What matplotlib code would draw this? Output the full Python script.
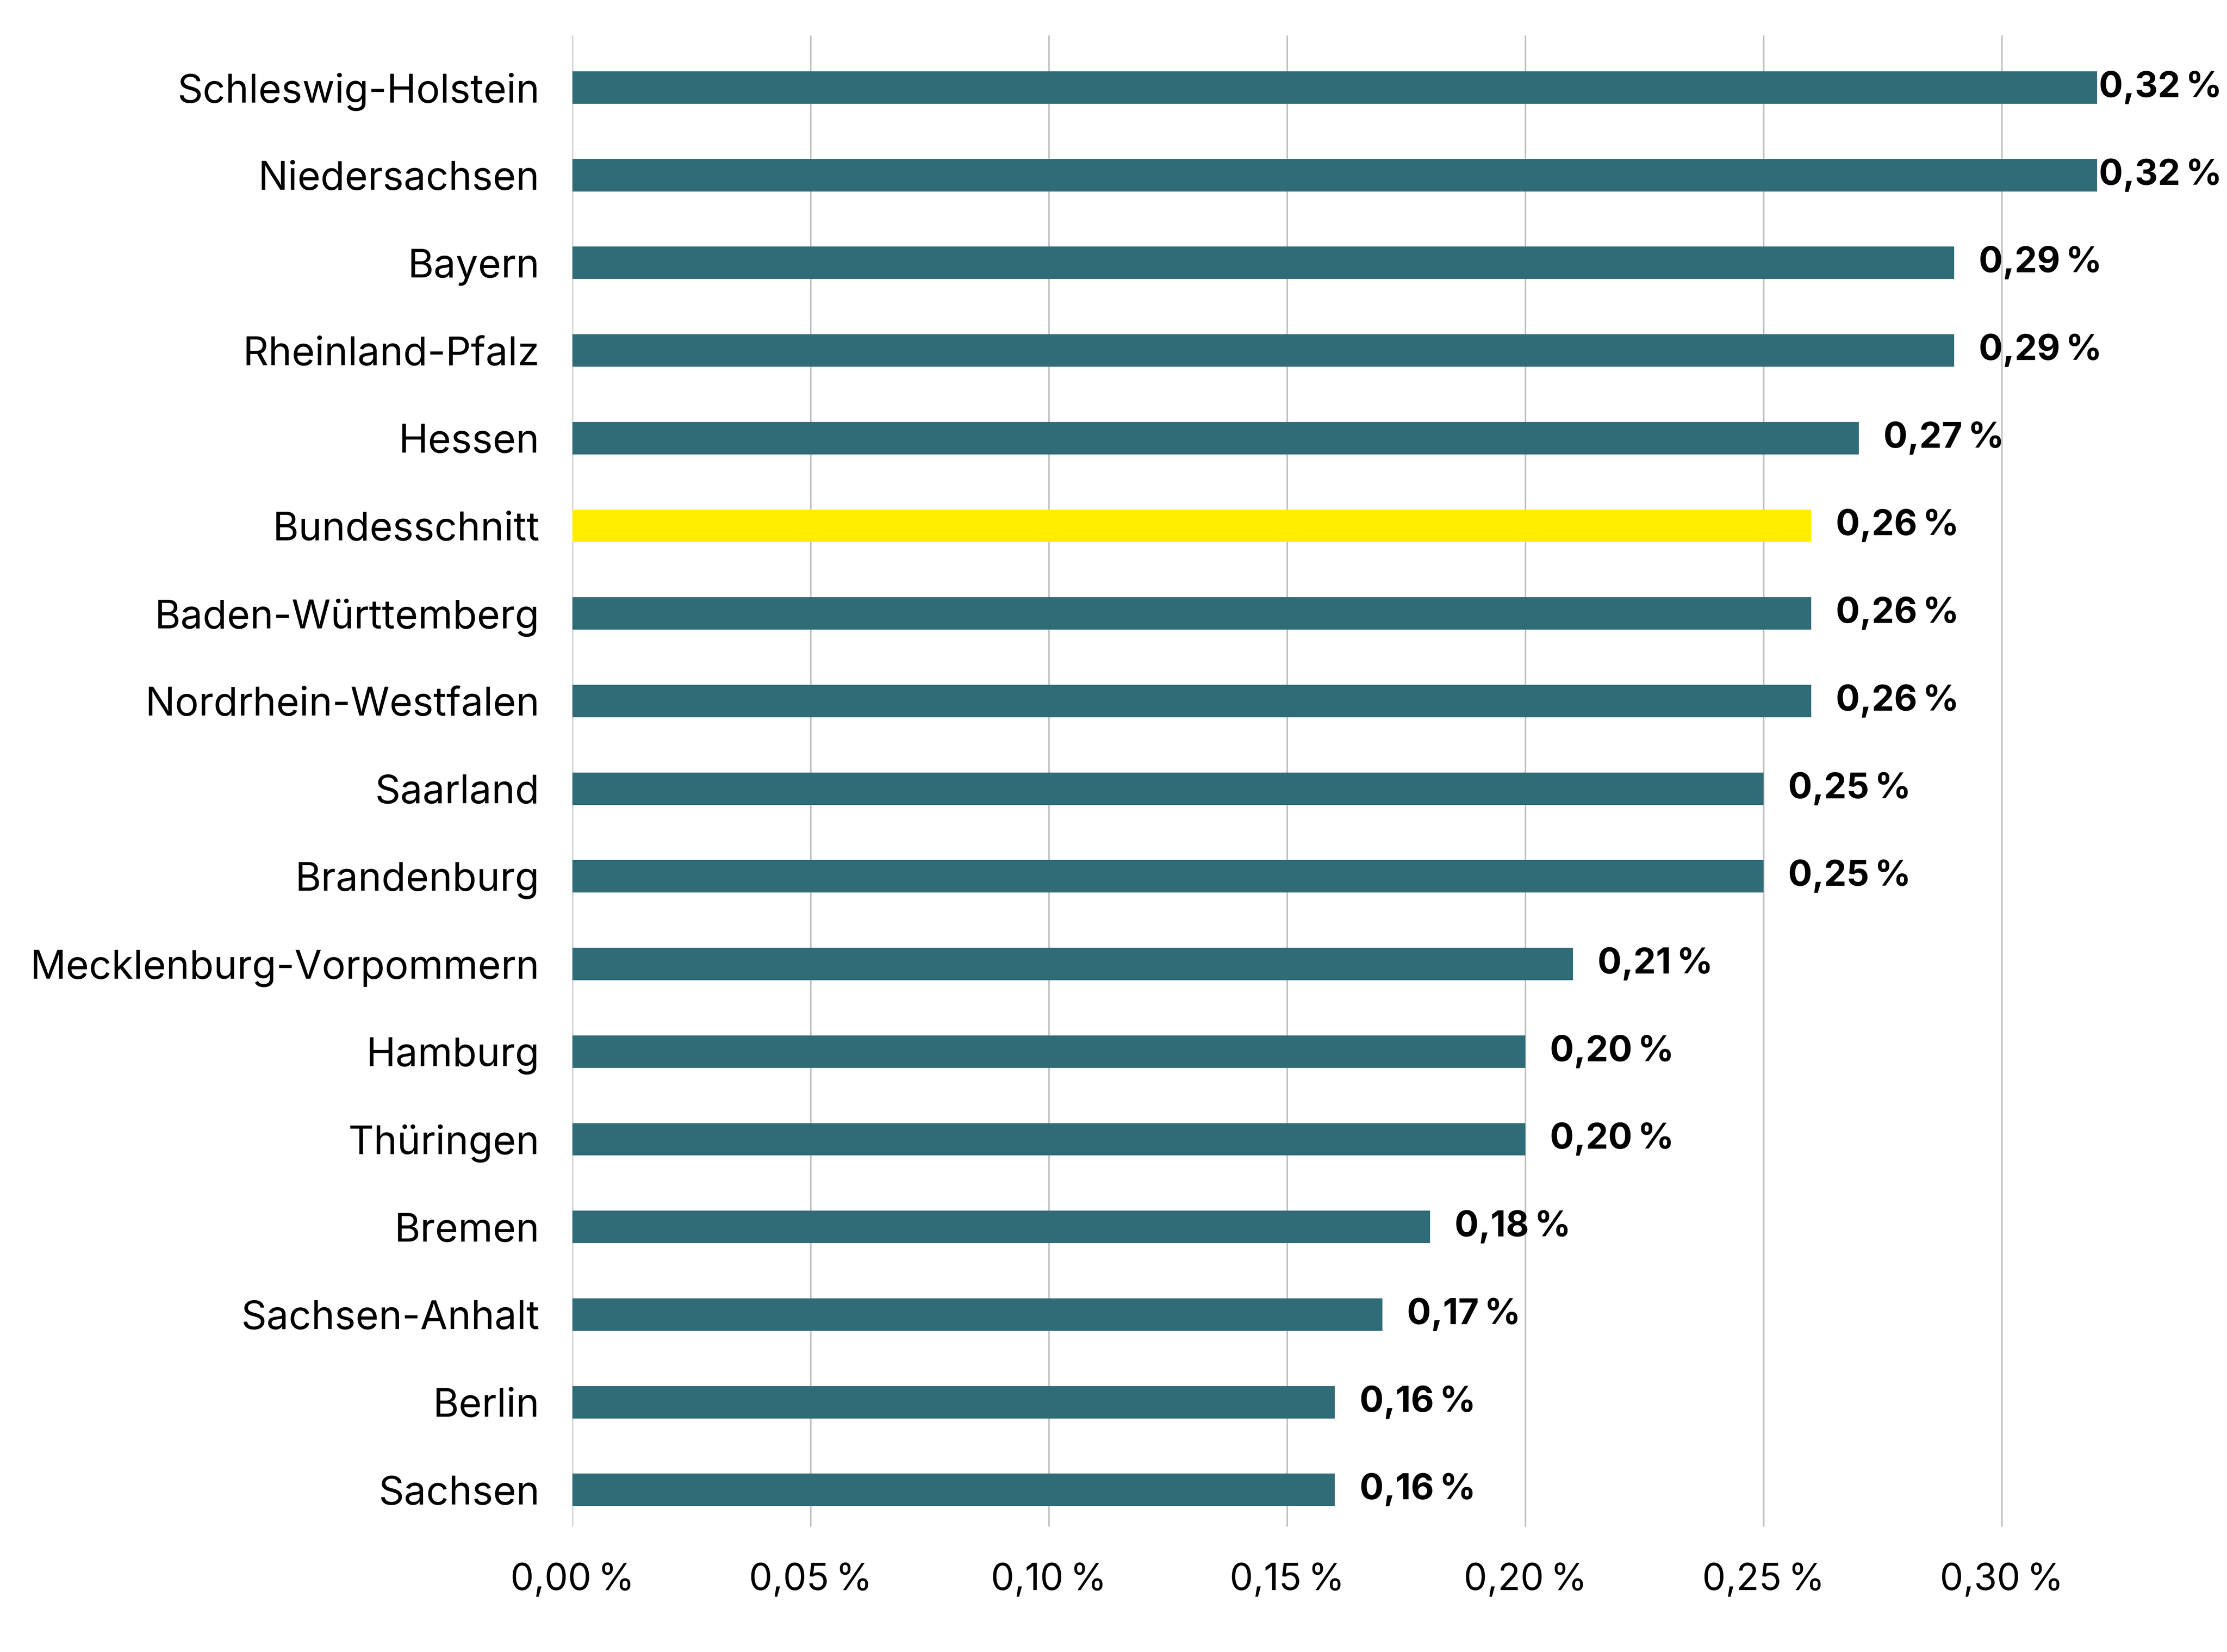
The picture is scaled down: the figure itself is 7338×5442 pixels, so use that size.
import matplotlib
matplotlib.use("Agg")
import matplotlib.pyplot as plt
from matplotlib.ticker import FixedLocator, FuncFormatter

categories = ["Schleswig-Holstein", "Niedersachsen", "Bayern", "Rheinland-Pfalz",
              "Hessen", "Bundesschnitt", "Baden-Württemberg", "Nordrhein-Westfalen",
              "Saarland", "Brandenburg", "Mecklenburg-Vorpommern", "Hamburg",
              "Thüringen", "Bremen", "Sachsen-Anhalt", "Berlin", "Sachsen"]
values = [0.32, 0.32, 0.29, 0.29, 0.27, 0.26, 0.26, 0.26, 0.25, 0.25,
          0.21, 0.20, 0.20, 0.18, 0.17, 0.16, 0.16]
highlight = "Bundesschnitt"
x_ticks = [0.00, 0.05, 0.10, 0.15, 0.20, 0.25, 0.30]

TEAL = "#306b78"
YELLOW = "#ffed00"
FONT = ["Inter", "DejaVu Sans"]

plt.rcParams["font.family"] = FONT

def fmt(v):
    return f"{v:.2f}".replace(".", ",") + "\u2009%"

DPI = 587
fig = plt.figure(figsize=(7501 / 600, 5563 / 600), dpi=DPI)
ax = fig.add_axes([0.2570, 0.07586, 0.7060, 0.97843 - 0.07586])

pos = list(range(len(categories)))
colors = [YELLOW if c == highlight else TEAL for c in categories]
ax.barh(pos, values, height=0.37, color=colors, zorder=3)

ax.set_xlim(0, 0.33)
ax.set_ylim(len(categories) - 1 + 0.42, -0.594)

ax.xaxis.set_major_locator(FixedLocator(x_ticks))
ax.xaxis.set_major_formatter(FuncFormatter(lambda v, p: fmt(v)))
ax.set_yticks(pos)
ax.set_yticklabels(categories)

ax.grid(axis="x", color="#bfbfbf", linewidth=0.6, zorder=0)
ax.grid(axis="y", visible=False)
for s in ax.spines.values():
    s.set_visible(False)

ax.tick_params(axis="x", length=0, labelsize=15.0, labelcolor="black", pad=14.5)
ax.tick_params(axis="y", length=0, labelsize=16.0, labelcolor="black", pad=13.3)

vmax = max(values)
for p, v in zip(pos, values):
    off = 0.8 if v >= vmax else 10.0
    ax.annotate(fmt(v), xy=(v, p), xytext=(off, 0), textcoords="offset points",
                ha="left", va="center", fontsize=14.4, fontweight="bold",
                color="black", annotation_clip=False, zorder=4)

fig.savefig("out.png", dpi=DPI, facecolor="white")
